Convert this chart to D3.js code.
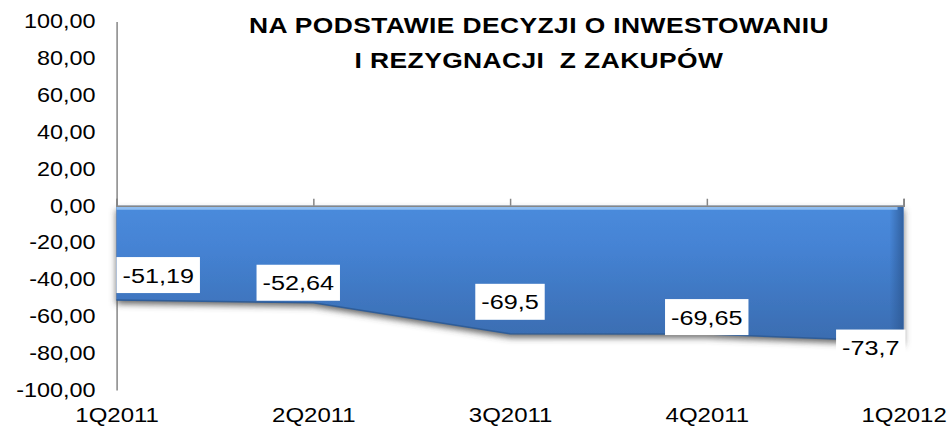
<!DOCTYPE html>
<html>
<head>
<meta charset="utf-8">
<script src="https://cdn.jsdelivr.net/npm/d3@7"></script>
<style>
  html, body { margin: 0; padding: 0; background: #fff; }
  svg { display: block; font-family: "Liberation Sans", Arial, sans-serif; }
</style>
</head>
<body>
<svg id="chart"></svg>
<script>
// data
const categories = ['1Q2011', '2Q2011', '3Q2011', '4Q2011', '1Q2012'];
const values = [-51.19, -52.64, -69.5, -69.65, -73.7];
const yTicks = [100, 80, 60, 40, 20, 0, -20, -40, -60, -80, -100];
const titleLines = ['NA PODSTAWIE DECYZJI O INWESTOWANIU', 'I REZYGNACJI  Z ZAKUPÓW'];

// layout (source image is stretched sideways, so the drawing is too)
const W = 949, H = 429, SX = 1.2;
const vbW = W / SX;
const plotLeft = 116.5 / SX, plotRight = 903.5 / SX;
const plotTop = 21.5, plotBottom = 390;
// label nudges in px (excel "best fit" placement)
const labelNudge = [[0, -25], [-15, -20], [0, -32], [0, -17], [0, 6]];

const pl = d3.formatLocale({ decimal: ',', thousands: ' ', grouping: [3], currency: ['', ''], minus: '-' });
const fmtTick = pl.format('.2f');
const fmtVal = pl.format('.6~g');

const svg = d3.select('#chart')
    .attr('width', W)
    .attr('height', H)
    .attr('viewBox', `0 0 ${vbW} ${H}`)
    .attr('preserveAspectRatio', 'none');

const x = d3.scalePoint().domain(categories).range([plotLeft, plotRight]);
const y = d3.scaleLinear().domain([-100, 100]).range([plotBottom, plotTop]);

const defs = svg.append('defs');

const fillGrad = defs.append('linearGradient')
    .attr('id', 'fillGrad').attr('x1', 0).attr('y1', 0).attr('x2', 0).attr('y2', 1);
fillGrad.append('stop').attr('offset', '0%').attr('stop-color', '#4a8bdc');
fillGrad.append('stop').attr('offset', '30%').attr('stop-color', '#4583d4');
fillGrad.append('stop').attr('offset', '100%').attr('stop-color', '#3a6cb0');

const edgeGrad = defs.append('linearGradient')
    .attr('id', 'edgeGrad').attr('gradientUnits', 'userSpaceOnUse')
    .attr('x1', plotRight - 14 / SX).attr('y1', 0).attr('x2', plotRight).attr('y2', 0);
edgeGrad.append('stop').attr('offset', '0%').attr('stop-color', '#2d5a96').attr('stop-opacity', 0);
edgeGrad.append('stop').attr('offset', '100%').attr('stop-color', '#2d5a96').attr('stop-opacity', 0.85);

const shadow = defs.append('filter').attr('id', 'shadow')
    .attr('x', '-5%').attr('y', '-5%').attr('width', '110%').attr('height', '130%');
shadow.append('feGaussianBlur').attr('in', 'SourceAlpha').attr('stdDeviation', 3);
shadow.append('feOffset').attr('dy', 4).attr('result', 'blur');
shadow.append('feFlood').attr('flood-color', '#444').attr('flood-opacity', 0.8);
shadow.append('feComposite').attr('in2', 'blur').attr('operator', 'in');
const merge = shadow.append('feMerge');
merge.append('feMergeNode');
merge.append('feMergeNode').attr('in', 'SourceGraphic');

// y axis
const yAxis = svg.append('g')
    .attr('transform', `translate(${plotLeft},0)`)
    .call(d3.axisLeft(y).tickValues(yTicks).tickSize(0).tickPadding(21 / SX).tickFormat(fmtTick));
yAxis.select('.domain').attr('stroke', '#868686').attr('stroke-width', 1.5 / SX);
yAxis.selectAll('text').attr('font-size', 19.5).attr('fill', '#000')
    .attr('font-family', '"Liberation Sans", Arial, sans-serif');

// area
const pts = categories.map((c, i) => ({ c, v: values[i] }));
const area = d3.area().x(d => x(d.c)).y0(y(0)).y1(d => y(d.v));
const line = d3.line().x(d => x(d.c)).y(d => y(d.v));

svg.append('path')
    .datum(pts)
    .attr('d', area)
    .attr('fill', 'url(#fillGrad)')
    .attr('filter', 'url(#shadow)');

svg.append('path')
    .datum(pts)
    .attr('d', area)
    .attr('fill', 'url(#edgeGrad)');

svg.append('path')
    .datum(pts)
    .attr('d', line)
    .attr('fill', 'none')
    .attr('stroke', '#2f5d98')
    .attr('stroke-width', 1.5);

// top highlight
svg.append('line')
    .attr('x1', plotLeft).attr('x2', plotRight - 6 / SX)
    .attr('y1', y(0) + 2.5).attr('y2', y(0) + 2.5)
    .attr('stroke', '#8fbdf0').attr('stroke-width', 3);

// x axis along zero, ticks pointing up
const xZero = svg.append('g')
    .attr('transform', `translate(0,${y(0)})`)
    .call(d3.axisBottom(x).tickSize(-7).tickFormat(''));
xZero.select('.domain').attr('stroke', '#868686').attr('stroke-width', 1.5);
xZero.selectAll('.tick line').attr('stroke', '#868686').attr('stroke-width', 1.5 / SX);

// category labels at the bottom
const xLab = svg.append('g')
    .attr('transform', `translate(0,${plotBottom})`)
    .call(d3.axisBottom(x).tickSize(0).tickPadding(18));
xLab.select('.domain').remove();
xLab.selectAll('text').attr('font-size', 20).attr('fill', '#000')
    .attr('font-family', '"Liberation Sans", Arial, sans-serif');

// data labels
const lab = svg.append('g').selectAll('g')
    .data(pts)
    .join('g');

lab.each(function(d, i) {
    const g = d3.select(this);
    const t = g.append('text')
        .attr('font-size', 21)
        .attr('fill', '#000')
        .attr('text-anchor', 'middle')
        .text(fmtVal(d.v));
    const tw = t.node().getComputedTextLength();
    const bw = tw + 12 / SX, bh = 36;
    let cx = x(d.c) + labelNudge[i][0] / SX;
    cx = Math.max(plotLeft + bw / 2, Math.min(plotRight + 2 / SX - bw / 2, cx));
    const cy = y(d.v) + labelNudge[i][1];
    g.insert('rect', 'text')
        .attr('x', cx - bw / 2).attr('y', cy - bh / 2)
        .attr('width', bw).attr('height', bh)
        .attr('fill', '#fff');
    t.attr('x', cx).attr('y', cy + 7.5);
});

// title
svg.append('text')
    .attr('x', 539 / SX)
    .attr('text-anchor', 'middle')
    .attr('font-size', 22)
    .attr('font-weight', 'bold')
    .attr('letter-spacing', 0.35)
    .attr('fill', '#000')
    .selectAll('tspan')
    .data(titleLines)
    .join('tspan')
    .attr('x', 539 / SX)
    .attr('y', (d, i) => 33 + i * 35)
    .attr('xml:space', 'preserve')
    .style('white-space', 'pre')
    .text(d => d);
</script>
</body>
</html>
